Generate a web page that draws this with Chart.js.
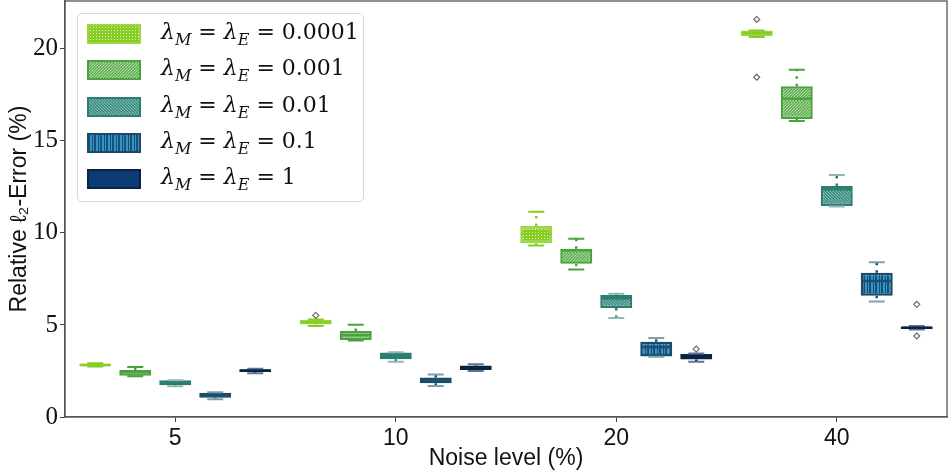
<!DOCTYPE html>
<html>
<head>
<meta charset="utf-8">
<script src="https://cdn.jsdelivr.net/npm/chart.js@4.4.1/dist/chart.umd.min.js"></script>
<style>
  html, body { margin: 0; padding: 0; background: #fff; }
  #wrap { position: relative; width: 949px; height: 472px; }
  #legend {
    position: absolute; left: 77px; top: 13px; width: 287px; height: 189px;
    border: 1px solid #d9d9d9; border-radius: 5px; background: rgba(255,255,255,0.85);
    box-sizing: border-box;
  }
  .row { position: absolute; left: 9px; height: 24px; display: flex; align-items: center; }
  .sw { width: 54px; height: 20px; box-sizing: border-box; border: 2.5px solid; }
  .lt { position: absolute; left: 74px; font-family: "DejaVu Serif", serif; font-size: 22px; white-space: nowrap; color: #111; top: -3px; }
  .lt i { font-style: italic; }
  .lt sub { font-size: 16px; font-style: italic; vertical-align: -6px; line-height: 0; }
</style>
</head>
<body>
<div id="wrap">
  <canvas id="c" width="949" height="472"></canvas>
  <div id="legend"></div>
</div>
<script>
// ---------- data ----------
const categories = ['5', '10', '20', '40'];
const seriesLabels = ['0.0001', '0.001', '0.01', '0.1', '1'];
const yTicks = [0, 5, 10, 15, 20];

// per series: values for noise 5, 10, 20, 40
const s1_low    = [2.74, 4.94, 9.32, 20.64];
const s1_q1     = [2.76, 5.03, 9.44, 20.70];
const s1_median = [2.82, 5.15, 9.95, 20.85];
const s1_q3     = [2.90, 5.28, 10.37, 21.00];
const s1_high   = [2.92, 5.30, 11.15, 21.00];
const s1_out    = [[], [5.52], [], [21.6, 18.46]];

const s2_low    = [2.22, 4.16, 8.01, 16.08];
const s2_q1     = [2.24, 4.18, 8.32, 16.19];
const s2_median = [2.45, 4.45, 9.05, 17.29];
const s2_q3     = [2.56, 4.67, 9.14, 17.97];
const s2_high   = [2.72, 5.01, 9.68, 18.86];
const s2_out    = [[], [], [], []];

const s3_low    = [1.67, 3.00, 5.38, 11.44];
const s3_q1     = [1.73, 3.14, 5.92, 11.46];
const s3_median = [1.85, 3.30, 6.45, 12.37];
const s3_q3     = [2.00, 3.50, 6.63, 12.55];
const s3_high   = [2.00, 3.52, 6.69, 13.15];
const s3_out    = [[], [], [], []];

const s4_low    = [0.96, 1.69, 3.27, 6.28];
const s4_q1     = [1.05, 1.84, 3.28, 6.59];
const s4_median = [1.15, 2.00, 3.80, 7.39];
const s4_q3     = [1.32, 2.14, 4.09, 7.83];
const s4_high   = [1.35, 2.31, 4.29, 8.41];
const s4_out    = [[], [], [], []];

const s5_low    = [2.38, 2.50, 3.00, 4.76];
const s5_q1     = [2.44, 2.56, 3.12, 4.78];
const s5_median = [2.52, 2.68, 3.30, 4.85];
const s5_q3     = [2.60, 2.80, 3.42, 4.92];
const s5_high   = [2.62, 2.87, 3.45, 4.94];
const s5_out    = [[], [], [3.69], [6.12, 4.40]];

const seriesStats = [
  {low: s1_low, q1: s1_q1, med: s1_median, q3: s1_q3, high: s1_high, out: s1_out},
  {low: s2_low, q1: s2_q1, med: s2_median, q3: s2_q3, high: s2_high, out: s2_out},
  {low: s3_low, q1: s3_q1, med: s3_median, q3: s3_q3, high: s3_high, out: s3_out},
  {low: s4_low, q1: s4_q1, med: s4_median, q3: s4_q3, high: s4_high, out: s4_out},
  {low: s5_low, q1: s5_q1, med: s5_median, q3: s5_q3, high: s5_high, out: s5_out},
];

// ---------- styles ----------
const styles = [
  {base: '#86cc24', hatch: 'dots',  line: '#e9f7d2', edge: '#9ad645', cap: '#86cc24', med: '#86cc24'},
  {base: '#4ba23e', hatch: 'fwd',   line: '#b9dcae', edge: '#4ba23e', cap: '#4ba23e', med: '#4ba23e'},
  {base: '#2e7d72', hatch: 'back',  line: '#82c2b8', edge: '#2e7d72', cap: '#8fb9b3', med: '#2e7d72'},
  {base: '#1c4f70', hatch: 'vert',  line: '#2f93cc', edge: '#1b4a6a', cap: '#7d9fb4', med: '#1c4f70'},
  {base: '#0c3b74', hatch: 'none',  line: null,      edge: '#0a2246', cap: '#5e7591', med: '#0a2246'},
];

function makePatternCanvas(st) {
  const c = document.createElement('canvas');
  const s = 6;
  c.width = s; c.height = s;
  const g = c.getContext('2d');
  g.fillStyle = st.base; g.fillRect(0, 0, s, s);
  if (st.hatch === 'dots') {
    g.fillStyle = st.line;
    g.fillRect(1, 1, 1, 1); g.fillRect(4, 1, 1, 1);
    g.fillRect(1, 4, 1, 1); g.fillRect(4, 4, 1, 1);
  } else if (st.hatch === 'fwd' || st.hatch === 'back') {
    g.strokeStyle = st.line; g.lineWidth = 1.1;
    for (let k = -2; k <= 2; k++) {
      g.beginPath();
      if (st.hatch === 'fwd') { g.moveTo(k * 3, s); g.lineTo(k * 3 + s, 0); }
      else { g.moveTo(k * 3, 0); g.lineTo(k * 3 + s, s); }
      g.stroke();
    }
  } else if (st.hatch === 'vert') {
    g.fillStyle = st.line;
    g.fillRect(1, 0, 2, s); g.fillRect(4, 0, 1, s);
  }
  return c;
}
const tmpCtx = document.createElement('canvas').getContext('2d');
const patterns = styles.map(st => {
  const pc = makePatternCanvas(st);
  st.canvas = pc;
  return tmpCtx.createPattern(pc, 'repeat');
});

// ---------- legend (HTML, real text) ----------
const legendEl = document.getElementById('legend');
seriesLabels.forEach((lab, i) => {
  const row = document.createElement('div');
  row.className = 'row';
  row.style.top = (8 + i * 36.3) + 'px';
  const sw = document.createElement('div');
  sw.className = 'sw';
  sw.style.borderColor = styles[i].edge;
  sw.style.backgroundImage = 'url(' + styles[i].canvas.toDataURL() + ')';
  row.appendChild(sw);
  const t = document.createElement('span');
  t.className = 'lt';
  t.innerHTML = '<i>λ</i><sub>M</sub> = <i>λ</i><sub>E</sub> = ' + lab;
  row.appendChild(t);
  legendEl.appendChild(row);
});

// ---------- datasets ----------
const datasets = seriesStats.map((st, i) => ({
  label: 'λM = λE = ' + seriesLabels[i],
  data: st.q1.map((v, j) => [v, st.q3[j]]),
  backgroundColor: patterns[i],
  borderColor: styles[i].edge,
  borderWidth: 2.5,
  borderSkipped: false,
  categoryPercentage: 0.907,
  barPercentage: 0.8,
}));

// ---------- box plot extras drawn through scales ----------
const boxExtras = {
  id: 'boxExtras',
  afterDatasetsDraw(chart) {
    const ctx = chart.ctx;
    const y = chart.scales.y;
    ctx.save();
    seriesStats.forEach((st, i) => {
      const meta = chart.getDatasetMeta(i);
      const sty = styles[i];
      meta.data.forEach((bar, j) => {
        const cx = bar.x, w = bar.width;
        const yq1 = y.getPixelForValue(st.q1[j]);
        const yq3 = y.getPixelForValue(st.q3[j]);
        const ylo = y.getPixelForValue(st.low[j]);
        const yhi = y.getPixelForValue(st.high[j]);
        const ymed = y.getPixelForValue(st.med[j]);
        // whiskers (dotted)
        ctx.strokeStyle = sty.med; ctx.lineWidth = 2.5; ctx.setLineDash([2.5, 5]);
        ctx.beginPath(); ctx.moveTo(cx, yq3); ctx.lineTo(cx, yhi);
        ctx.moveTo(cx, yq1); ctx.lineTo(cx, ylo); ctx.stroke();
        ctx.setLineDash([]);
        // caps
        ctx.strokeStyle = sty.cap; ctx.lineWidth = 2;
        ctx.beginPath();
        ctx.moveTo(cx - w / 4, yhi); ctx.lineTo(cx + w / 4, yhi);
        ctx.moveTo(cx - w / 4, ylo); ctx.lineTo(cx + w / 4, ylo);
        ctx.stroke();
        // median
        ctx.strokeStyle = sty.med; ctx.lineWidth = 2.5;
        ctx.beginPath(); ctx.moveTo(bar.x - w / 2 + 1, ymed); ctx.lineTo(bar.x + w / 2 - 1, ymed); ctx.stroke();
        // outliers (diamonds)
        st.out[j].forEach(v => {
          const py = y.getPixelForValue(v);
          ctx.fillStyle = '#ffffff'; ctx.strokeStyle = '#6b6b6b'; ctx.lineWidth = 1.2;
          ctx.beginPath();
          ctx.moveTo(cx, py - 3); ctx.lineTo(cx + 3, py); ctx.lineTo(cx, py + 3); ctx.lineTo(cx - 3, py);
          ctx.closePath(); ctx.fill(); ctx.stroke();
        });
      });
    });
    // frame (spines)
    const a = chart.chartArea;
    ctx.strokeStyle = '#555'; ctx.lineWidth = 1.3;
    ctx.strokeRect(a.left, a.top, a.right - a.left, a.bottom - a.top);
    ctx.restore();
  }
};

new Chart(document.getElementById('c'), {
  type: 'bar',
  data: { labels: categories, datasets },
  options: {
    responsive: false,
    animation: false,
    layout: { padding: { top: 1, right: 2, left: 0, bottom: 0 } },
    plugins: { legend: { display: false }, tooltip: { enabled: false } },
    scales: {
      x: {
        grid: { display: true, drawOnChartArea: false, drawTicks: true, tickLength: 5, offset: false, color: '#444' },
        border: { display: true, color: '#555', width: 1.3 },
        ticks: { color: '#111', font: { family: 'Liberation Sans', size: 23 }, padding: 3 },
        title: { display: true, text: 'Noise level (%)', color: '#111', font: { family: 'Liberation Sans', size: 23 }, padding: { top: 0, bottom: 0 } },
        afterFit(s) { s.height = 55; s.paddingLeft = 0; s.paddingRight = 0; }
      },
      y: {
        min: 0, max: 22.6,
        afterBuildTicks(s) { s.ticks = yTicks.map(v => ({ value: v })); },
        grid: { display: true, drawOnChartArea: false, drawTicks: true, tickLength: 5, color: '#444' },
        border: { display: true, color: '#555', width: 1.3 },
        ticks: { color: '#111', font: { family: 'Liberation Serif', size: 25 }, padding: 2 },
        title: { display: true, text: 'Relative ℓ₂-Error (%)', color: '#111', font: { family: 'Liberation Sans', size: 23 }, padding: { top: 6, bottom: 0 } },
        afterFit(s) { s.width = 65; s.paddingTop = 0; s.paddingBottom = 0; }
      }
    }
  },
  plugins: [boxExtras]
});
</script>
</body>
</html>
